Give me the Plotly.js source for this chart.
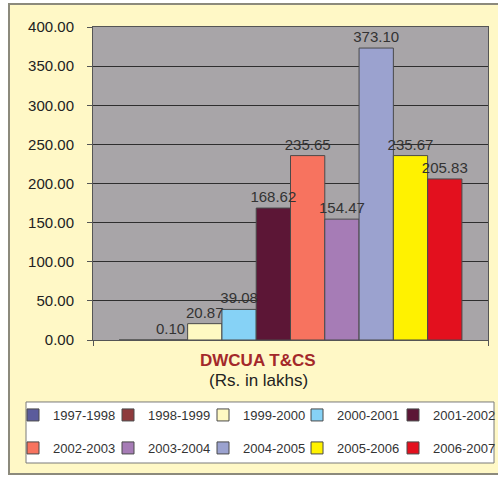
<!DOCTYPE html>
<html>
<head>
<meta charset="utf-8">
<script src="https://cdn.plot.ly/plotly-3.0.1.min.js"></script>
<style>
  html, body { margin: 0; padding: 0; background: #ffffff; overflow: hidden; }
  #frame { position: absolute; left: 8px; top: 3px; width: 540px; height: 472px;
           border: 2px solid #8c8a7c; background: #fff8c6; box-sizing: border-box; }
  #chart { position: absolute; left: 0; top: 0; width: 498px; height: 478px; }
</style>
</head>
<body>
<div id="frame"></div>
<div id="chart"></div>
<script>
// Data
const years = ["1997-1998", "1998-1999", "1999-2000", "2000-2001", "2001-2002",
               "2002-2003", "2003-2004", "2004-2005", "2005-2006", "2006-2007"];
const amounts = [null, 0.10, 20.87, 39.08, 168.62, 235.65, 154.47, 373.10, 235.67, 205.83];
const colors = ["#5b5c9c", "#8e3a3c", "#fff9c2", "#86d2f6", "#5c1636",
                "#f7735f", "#a67cb6", "#9ba2cf", "#fff200", "#e3101e"];
const category = [""];
const yTicks = [0, 50, 100, 150, 200, 250, 300, 350, 400];
const chartTitle = "DWCUA T&CS";
const chartSubtitle = "(Rs. in lakhs)";

const FONT = "Liberation Sans, Arial, sans-serif";

// legend grid placement (paper coords): 5 columns x 2 rows
const legendColX = [-0.2025, 0.038, 0.2785, 0.5165, 0.7595];
const legendRowY = [-0.2396, -0.345];
const legendId = (i) => (i === 0 ? "legend" : "legend" + (i + 1));

// visible bars, each with its own single-entry legend
const barTraces = years.map((yr, i) => ({
  type: "bar",
  name: yr,
  legend: legendId(i),
  x: category,
  y: [amounts[i] === null ? 0 : amounts[i]],
  textposition: "none",
  marker: { color: colors[i], line: { color: "#4a4a4a", width: 1 } },
  hoverinfo: "y"
}));

// same bars on an overlaying axis, transparent, carrying the value labels on top
const labelTraces = years.map((yr, i) => ({
  type: "bar",
  name: yr,
  xaxis: "x2",
  yaxis: "y2",
  showlegend: false,
  x: category,
  y: [amounts[i] === null ? 0 : amounts[i]],
  text: [amounts[i] === null ? "" : amounts[i].toFixed(2)],
  textposition: "outside",
  constraintext: "none",
  cliponaxis: false,
  textfont: { family: FONT, size: 15, color: "#333333" },
  marker: { color: "rgba(0,0,0,0)", line: { width: 0 } },
  hoverinfo: "skip"
}));

const layout = {
  width: 498,
  height: 478,
  margin: { l: 93, r: 10, t: 27, b: 138, autoexpand: false },
  paper_bgcolor: "rgba(0,0,0,0)",
  plot_bgcolor: "#a8a5a8",
  barmode: "group",
  bargap: 0.132,
  bargroupgap: 0,
  font: { family: FONT, color: "#333333" },
  showlegend: true,
  xaxis: {
    type: "category",
    showticklabels: false,
    ticks: "outside",
    tickson: "boundaries",
    ticklen: 5,
    tickcolor: "#555555",
    showline: true,
    linecolor: "#555555",
    linewidth: 1,
    mirror: true,
    showgrid: false,
    fixedrange: true
  },
  yaxis: {
    range: [0, 400],
    tickvals: yTicks,
    ticktext: yTicks.map(v => v.toFixed(2)),
    ticks: "outside",
    ticklen: 5,
    tickcolor: "#555555",
    ticklabelstandoff: 10,
    tickfont: { family: FONT, size: 15, color: "#222222" },
    showgrid: true,
    gridcolor: "#2e2e2e",
    gridwidth: 1,
    showline: true,
    linecolor: "#555555",
    linewidth: 1,
    mirror: true,
    zeroline: false,
    fixedrange: true
  },
  xaxis2: {
    type: "category",
    overlaying: "x",
    visible: false,
    fixedrange: true
  },
  yaxis2: {
    overlaying: "y",
    range: [0, 400],
    visible: false,
    fixedrange: true
  },
  shapes: [
    {
      type: "rect",
      xref: "paper", yref: "paper",
      x0: -0.1696, x1: 1.0152, y0: -0.393, y1: -0.198,
      fillcolor: "#ffffff",
      line: { color: "#7a7a7a", width: 1 },
      layer: "below"
    }
  ],
  annotations: [
    {
      text: "<b>" + chartTitle + "</b>",
      xref: "paper", yref: "paper",
      x: 0.418, y: -0.064,
      xanchor: "center", yanchor: "middle",
      showarrow: false,
      font: { family: FONT, size: 17, color: "#a3282a" }
    },
    {
      text: chartSubtitle,
      xref: "paper", yref: "paper",
      x: 0.418, y: -0.128,
      xanchor: "center", yanchor: "middle",
      showarrow: false,
      font: { family: FONT, size: 17, color: "#222222" }
    }
  ]
};

years.forEach((yr, i) => {
  layout[legendId(i)] = {
    orientation: "v",
    x: legendColX[i % 5],
    xanchor: "left",
    y: legendRowY[Math.floor(i / 5)],
    yanchor: "middle",
    bgcolor: "rgba(0,0,0,0)",
    borderwidth: 0,
    itemwidth: 30,
    font: { family: FONT, size: 13, color: "#333333" }
  };
});

Plotly.newPlot("chart", barTraces.concat(labelTraces), layout, { displayModeBar: false, staticPlot: true });
</script>
</body>
</html>
